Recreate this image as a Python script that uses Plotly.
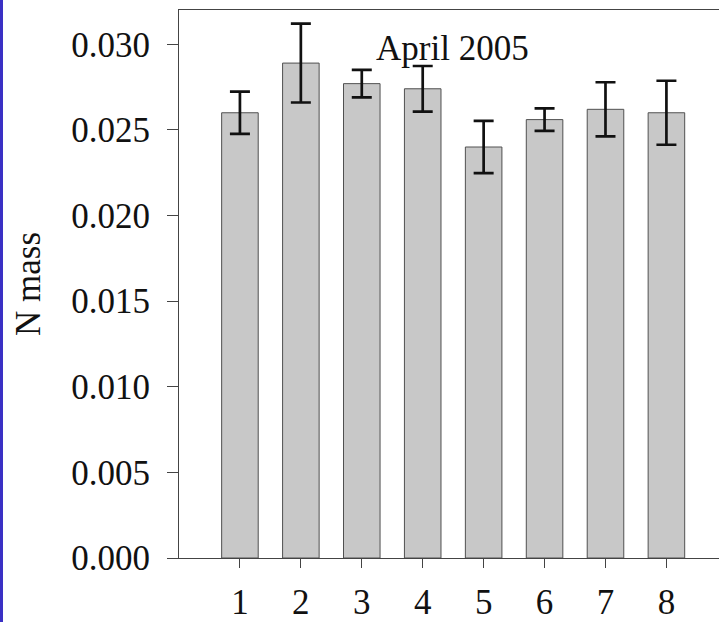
import plotly.graph_objects as go

# N mass by site, April 2005 (means with error bars)
sites = [1, 2, 3, 4, 5, 6, 7, 8]
n_mass = [0.0260, 0.0289, 0.0277, 0.0274, 0.0240, 0.0256, 0.0262, 0.0260]
n_mass_err = [0.00123, 0.0023, 0.0008, 0.00133, 0.00152, 0.00066, 0.00158, 0.00187]
y_ticks = [0.000, 0.005, 0.010, 0.015, 0.020, 0.025, 0.030]

FONT = "Liberation Serif, Times New Roman, serif"
FSIZE = 35
AXIS_COLOR = "#444444"

fig = go.Figure()
fig.add_trace(go.Bar(
    x=sites,
    y=n_mass,
    width=0.6,
    marker=dict(color="#c8c8c8", line=dict(color="#505050", width=1)),
    error_y=dict(type="data", array=n_mass_err, visible=True,
                 color="#111111", thickness=2.7, width=10),
    showlegend=False,
))

fig.add_annotation(
    text="April 2005", x=4.49, y=0.02977, xref="x", yref="y",
    showarrow=False, font=dict(family=FONT, size=FSIZE, color="#111111"),
    xanchor="center", yanchor="middle",
)

# thin blue strip along the left edge of the page
fig.add_shape(type="rect", xref="paper", yref="paper",
              x0=-179 / 540, x1=-176 / 540,
              y0=-70 / 547.7, y1=1 + 12 / 547.7,
              fillcolor="#3a30c4", line=dict(width=0), layer="above")

fig.update_layout(
    width=719, height=622,
    margin=dict(l=179, r=0, t=10, b=64, autoexpand=False),
    paper_bgcolor="white", plot_bgcolor="white",
    font=dict(family=FONT, size=FSIZE, color="#111111"),
    bargap=0.4,
)
fig.update_xaxes(
    range=[0, 8.863], tickvals=sites, ticktext=[str(s) for s in sites],
    showline=True, linecolor=AXIS_COLOR, linewidth=1, mirror=True,
    ticks="outside", ticklen=9, tickcolor=AXIS_COLOR, tickwidth=1,
    showgrid=False, zeroline=False, automargin=False,
    tickfont=dict(family=FONT, size=FSIZE, color="#111111"),
    ticklabelstandoff=4,
)
fig.update_yaxes(
    range=[0, 0.032], tickvals=y_ticks, tickformat=".3f",
    showline=True, linecolor=AXIS_COLOR, linewidth=1, mirror=False,
    ticks="outside", ticklen=11, tickcolor=AXIS_COLOR, tickwidth=1,
    showgrid=False, zeroline=False, automargin=False,
    tickfont=dict(family=FONT, size=FSIZE, color="#111111"),
    ticklabelstandoff=10,
    title=dict(text="N mass", standoff=20,
               font=dict(family=FONT, size=FSIZE, color="#111111")),
)

fig.write_html("out.html")
